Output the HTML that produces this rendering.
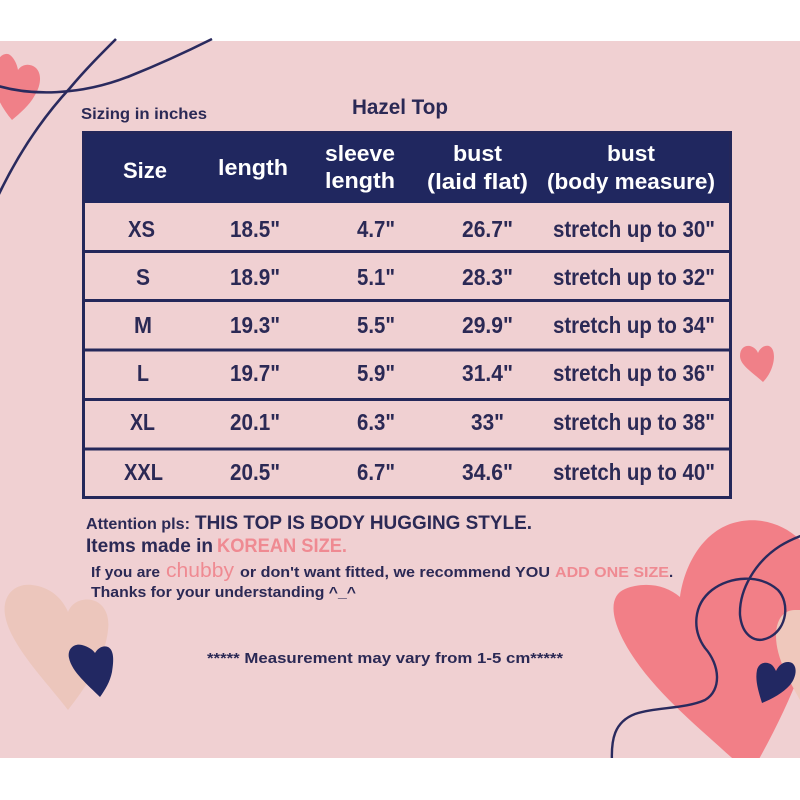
<!DOCTYPE html>
<html>
<head>
<meta charset="utf-8">
<style>
  html,body{margin:0;padding:0;background:#ffffff;}
  body{width:800px;height:800px;overflow:hidden;}
  svg{display:block;}
  text{font-family:"Liberation Sans",sans-serif;}
</style>
</head>
<body>
<svg width="800" height="800" viewBox="0 0 800 800" xmlns="http://www.w3.org/2000/svg">
  <rect x="0" y="0" width="800" height="800" fill="#ffffff"/>
  <!-- pink background -->
  <rect x="0" y="41" width="800" height="717" fill="#f0d0d2"/>

  <g>
    <!-- top-left decorations -->
    <path d="M12,120 C-5,100 -10,80 -5,65 C-1,55 6,52 10,55 C14,58 17,64 18,70 C22,64 30,63 36,68 C42,74 41,85 35,95 C29,106 20,113 12,120 Z" fill="#f08088"/>
    <path d="M-5,85 C30,96 80,96 130,76 C165,62 190,50 212,39" fill="none" stroke="#2a2a5e" stroke-width="2.6"/>
    <path d="M-2,196 C20,150 45,115 70,88 C85,70 100,55 116,39" fill="none" stroke="#2a2a5e" stroke-width="2.6"/>

    <!-- small right heart -->
    <path d="M763,382 C752,372 740,365 740,356 C740,348 745,345 750,346 C754,347 757,350 758,353 C760,348 764,345 769,346 C774,348 775,356 773,364 C771,372 767,378 763,382 Z" fill="#f08088"/>

    <!-- bottom-left hearts -->
    <path d="M68,710 C45,680 10,645 5,615 C2,595 15,583 32,585 C50,587 62,598 68,612 C72,602 82,598 92,600 C104,603 110,615 108,630 C105,660 85,688 68,710 Z" fill="#ecc6bc"/>
    <path d="M100,697 C88,685 72,672 69,658 C67,648 75,643 82,645 C89,647 93,650 95,653 C98,648 103,645 108,647 C114,650 114,660 112,672 C110,682 105,690 100,697 Z" fill="#222862"/>

    <!-- bottom-right decorations -->
    <clipPath id="bg"><rect x="0" y="41" width="800" height="717"/></clipPath>
    <g clip-path="url(#bg)">
      <path d="M750,775 C715,740 660,700 630,652 C610,620 608,596 625,589 C645,581 666,585 680,597 C684,568 700,535 730,524 C765,512 800,530 815,560 C830,600 805,680 750,775 Z" fill="#f27f87"/>
      <path d="M800,700 C790,682 776,658 776,636 C776,620 783,610 795,610 L800,610 Z" fill="#efc8bc"/>
      <path d="M762,703 C758,690 755,680 757,670 C759,662 767,661 772,665 C774,667 775,669 776,671 C779,664 786,660 792,663 C798,667 796,678 790,685 C783,693 772,699 762,703 Z" fill="#222862"/>
      <path d="M612,762 C611,740 614,722 635,714 C655,707 685,709 705,700 C722,690 720,665 705,648 C692,630 693,605 712,590 C730,576 760,574 778,590 C790,603 787,628 770,637 C755,645 742,635 740,615 C739,590 755,562 780,546 C788,541 795,538 803,535" fill="none" stroke="#2a2a5e" stroke-width="2.4"/>
    </g>
  </g>

  <!-- titles -->
  <text x="81" y="119" font-size="16" font-weight="bold" fill="#2b2955" textLength="126" lengthAdjust="spacingAndGlyphs">Sizing in inches</text>
  <text x="352" y="114" font-size="21" font-weight="bold" fill="#2b2955" textLength="96" lengthAdjust="spacingAndGlyphs">Hazel Top</text>

  <!-- table -->
  <rect x="82" y="131" width="650" height="72" fill="#20275f"/>
  <rect x="83.5" y="132.5" width="647" height="365" fill="none" stroke="#24275a" stroke-width="3"/>
  <g stroke="#24275a" stroke-width="3">
    <line x1="82" y1="251.5" x2="732" y2="251.5"/>
    <line x1="82" y1="300.5" x2="732" y2="300.5"/>
    <line x1="82" y1="350" x2="732" y2="350"/>
    <line x1="82" y1="399.5" x2="732" y2="399.5"/>
    <line x1="82" y1="449" x2="732" y2="449"/>
  </g>

  <!-- header text -->
  <g fill="#ffffff" font-size="22" font-weight="bold">
    <text x="123" y="178" textLength="44" lengthAdjust="spacingAndGlyphs">Size</text>
    <text x="218" y="175" textLength="70" lengthAdjust="spacingAndGlyphs">length</text>
    <text x="325" y="161" textLength="70" lengthAdjust="spacingAndGlyphs">sleeve</text>
    <text x="325" y="188" textLength="70" lengthAdjust="spacingAndGlyphs">length</text>
    <text x="453" y="161" textLength="49" lengthAdjust="spacingAndGlyphs">bust</text>
    <text x="427" y="189" textLength="101" lengthAdjust="spacingAndGlyphs">(laid flat)</text>
    <text x="607" y="161" textLength="48" lengthAdjust="spacingAndGlyphs">bust</text>
    <text x="547" y="189" textLength="168" lengthAdjust="spacingAndGlyphs">(body measure)</text>
  </g>

  <!-- body text -->
  <g fill="#2b2955" font-size="23" font-weight="bold">
    <text x="128" y="237" textLength="27" lengthAdjust="spacingAndGlyphs">XS</text>
    <text x="230" y="237" textLength="50" lengthAdjust="spacingAndGlyphs">18.5"</text>
    <text x="357" y="237" textLength="38" lengthAdjust="spacingAndGlyphs">4.7"</text>
    <text x="462" y="237" textLength="51" lengthAdjust="spacingAndGlyphs">26.7"</text>
    <text x="553" y="237" textLength="162" lengthAdjust="spacingAndGlyphs">stretch up to 30"</text>

    <text x="136" y="285" textLength="14" lengthAdjust="spacingAndGlyphs">S</text>
    <text x="230" y="285" textLength="50" lengthAdjust="spacingAndGlyphs">18.9"</text>
    <text x="357" y="285" textLength="38" lengthAdjust="spacingAndGlyphs">5.1"</text>
    <text x="462" y="285" textLength="51" lengthAdjust="spacingAndGlyphs">28.3"</text>
    <text x="553" y="285" textLength="162" lengthAdjust="spacingAndGlyphs">stretch up to 32"</text>

    <text x="134" y="333" textLength="18" lengthAdjust="spacingAndGlyphs">M</text>
    <text x="230" y="333" textLength="50" lengthAdjust="spacingAndGlyphs">19.3"</text>
    <text x="357" y="333" textLength="38" lengthAdjust="spacingAndGlyphs">5.5"</text>
    <text x="462" y="333" textLength="51" lengthAdjust="spacingAndGlyphs">29.9"</text>
    <text x="553" y="333" textLength="162" lengthAdjust="spacingAndGlyphs">stretch up to 34"</text>

    <text x="137" y="381" textLength="12" lengthAdjust="spacingAndGlyphs">L</text>
    <text x="230" y="381" textLength="50" lengthAdjust="spacingAndGlyphs">19.7"</text>
    <text x="357" y="381" textLength="38" lengthAdjust="spacingAndGlyphs">5.9"</text>
    <text x="462" y="381" textLength="51" lengthAdjust="spacingAndGlyphs">31.4"</text>
    <text x="553" y="381" textLength="162" lengthAdjust="spacingAndGlyphs">stretch up to 36"</text>

    <text x="130" y="430" textLength="25" lengthAdjust="spacingAndGlyphs">XL</text>
    <text x="230" y="430" textLength="50" lengthAdjust="spacingAndGlyphs">20.1"</text>
    <text x="357" y="430" textLength="38" lengthAdjust="spacingAndGlyphs">6.3"</text>
    <text x="471" y="430" textLength="33" lengthAdjust="spacingAndGlyphs">33"</text>
    <text x="553" y="430" textLength="162" lengthAdjust="spacingAndGlyphs">stretch up to 38"</text>

    <text x="124" y="480" textLength="39" lengthAdjust="spacingAndGlyphs">XXL</text>
    <text x="230" y="480" textLength="50" lengthAdjust="spacingAndGlyphs">20.5"</text>
    <text x="357" y="480" textLength="38" lengthAdjust="spacingAndGlyphs">6.7"</text>
    <text x="462" y="480" textLength="51" lengthAdjust="spacingAndGlyphs">34.6"</text>
    <text x="553" y="480" textLength="162" lengthAdjust="spacingAndGlyphs">stretch up to 40"</text>
  </g>

  <!-- notes -->
  <g font-weight="bold" fill="#2b2955">
    <text x="86" y="529" font-size="16" textLength="104" lengthAdjust="spacingAndGlyphs">Attention pls:</text>
    <text x="195" y="529" font-size="19" textLength="337" lengthAdjust="spacingAndGlyphs">THIS TOP IS BODY HUGGING STYLE.</text>
    <text x="86" y="552" font-size="19" textLength="127" lengthAdjust="spacingAndGlyphs">Items made in</text>
    <text x="217" y="552" font-size="19" fill="#ef8a92" textLength="130" lengthAdjust="spacingAndGlyphs">KOREAN SIZE.</text>

    <text x="91" y="577" font-size="15" textLength="69" lengthAdjust="spacingAndGlyphs">If you are</text>
    <text x="166" y="577" font-size="20" fill="#ef8a92" font-weight="normal" textLength="68" lengthAdjust="spacingAndGlyphs">chubby</text>
    <text x="240" y="577" font-size="15" textLength="310" lengthAdjust="spacingAndGlyphs">or don't want fitted, we recommend YOU</text>
    <text x="555" y="577" font-size="15" fill="#ef8a92" textLength="114" lengthAdjust="spacingAndGlyphs">ADD ONE SIZE</text>
    <text x="669" y="577" font-size="15">.</text>

    <text x="91" y="597" font-size="15" textLength="265" lengthAdjust="spacingAndGlyphs">Thanks for your understanding ^_^</text>
    <text x="207" y="663" font-size="15" textLength="356" lengthAdjust="spacingAndGlyphs">*****  Measurement may vary from 1-5 cm*****</text>
  </g>
</svg>
</body>
</html>
